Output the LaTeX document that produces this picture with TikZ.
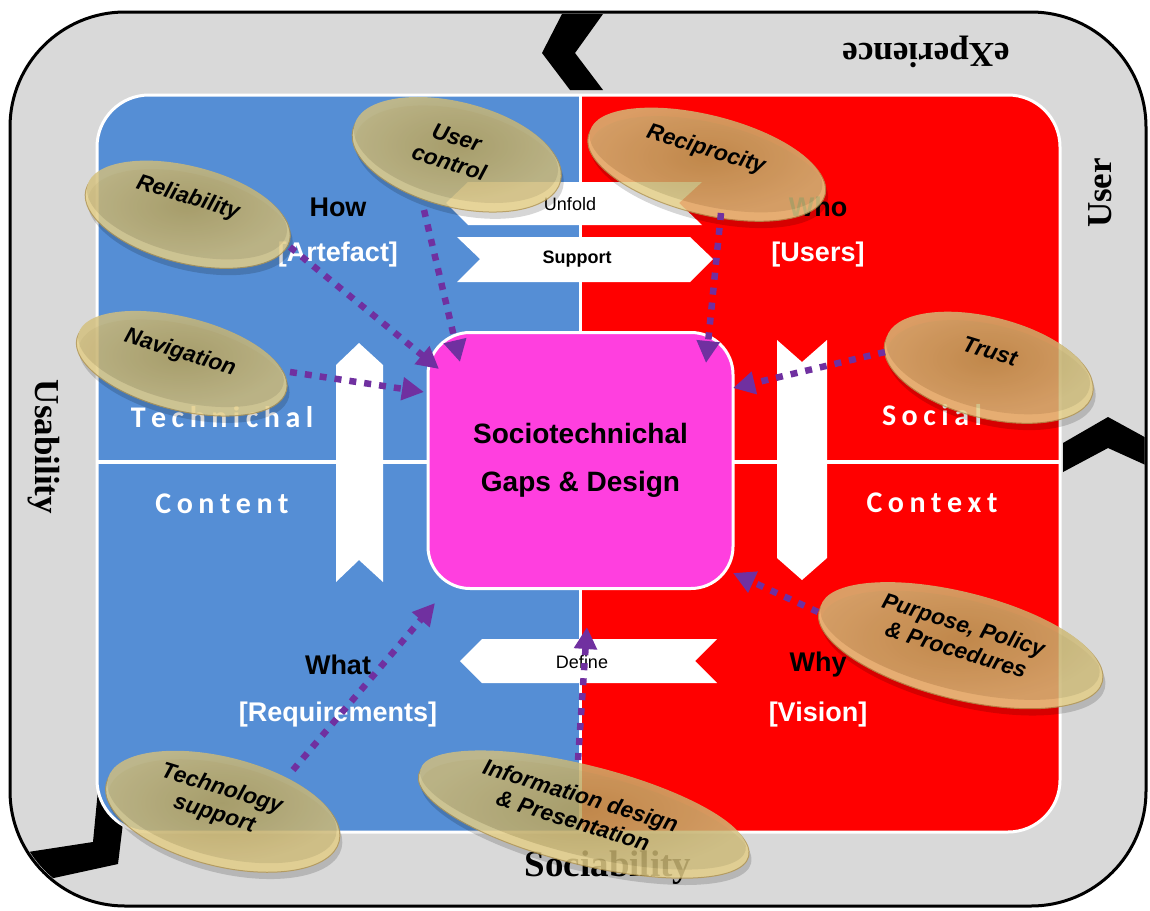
\documentclass[tikz,border=0pt]{standalone}
\usepackage{fontspec}
\setmainfont{Liberation Serif}
\newfontfamily\arialf{Liberation Sans}
\newfontfamily\calf{Carlito}
\usetikzlibrary{shapes.geometric,arrows.meta}
\definecolor{framegray}{HTML}{D9D9D9}
\definecolor{qblue}{HTML}{558ED5}
\definecolor{qred}{HTML}{FF0000}
\definecolor{corepink}{HTML}{FF3FDF}
\definecolor{dotc}{HTML}{7030A0}
\definecolor{pillIn}{HTML}{BCA65C}
\definecolor{pillOut}{HTML}{D4C07C}
\definecolor{pillRim}{HTML}{EAD48C}
\definecolor{pillEdge}{HTML}{B39650}
\makeatletter
\def\lspaced#1{\lsp@first#1\relax}
\def\lsp@first#1{#1\lsp@}
\def\lsp@#1{\ifx#1\relax\else\kern5.5pt#1\expandafter\lsp@\fi}
\makeatother
\tikzset{
  qhead/.style={font=\arialf\bfseries\fontsize{27}{30}\selectfont, text=black, inner sep=0pt},
  qsub/.style={font=\arialf\bfseries\fontsize{27}{30}\selectfont, text=white, inner sep=0pt},
  qspaced/.style={font=\calf\bfseries\fontsize{30}{32}\selectfont, text=white, inner sep=0pt},
  ribtext/.style={font=\arialf\fontsize{18}{20}\selectfont, inner sep=0pt},
  pillshadow/.style={ellipse, inner sep=0pt, fill=black, opacity=.16},
  pillrim/.style={ellipse, inner sep=0pt, fill=pillRim, draw=pillEdge, line width=1pt},
  pillface/.style={ellipse, inner sep=0pt, inner color=pillIn, outer color=pillOut},
  pilltext/.style={font=\arialf\bfseries\itshape\fontsize{22.5}{26}\selectfont, align=center, rotate=-17, inner sep=0pt},
  dotarrow/.style={draw=dotc, line width=6.5pt, dash pattern=on 7pt off 8pt, -{Triangle[length=22pt,width=22pt]}},
  bordertext/.style={font=\bfseries\fontsize{35}{40}\selectfont, inner sep=0pt},
}
\newcommand\pill[5]{%
  \node[pillshadow, minimum width=#4, minimum height=#5, rotate=-14, xshift=6pt, yshift=-11pt] at (#2,#3) {};
  \begin{scope}[transparency group, opacity=.82]
    \node[pillrim, minimum width=#4, minimum height=#5, rotate=-14, xshift=2pt, yshift=-5pt] at (#2,#3) {};
    \node[pillface, minimum width=#4-5, minimum height=#5-8, rotate=-14] (#1) at (#2,#3) {};
  \end{scope}}
\begin{document}
\begin{tikzpicture}[x=1pt,y=-1pt]
\useasboundingbox (0,0) rectangle (1150,910);
% outer frame
\draw[fill=framegray, line width=3pt, rounded corners=115pt] (10,12) rectangle (1146,906);
\node[bordertext, rotate=180] (exp) at (926,52) {eXperience};
\node[bordertext, rotate=90] (usr) at (1100,193) {User};
\node[bordertext, rotate=-90] (usab) at (44,447) {Usability};
\node[bordertext, font=\bfseries\fontsize{37}{40}\selectfont] (soc) at (608,868) {Sociability};
% black chevrons
\begin{scope}
  \clip[rounded corners=115pt] (11.5,13.5) rectangle (1144.5,904.5);
  \fill[black] (562,14) -- (603,14) -- (575,53) -- (603,90) -- (570,90) -- (542,53) -- cycle;
  \fill[black] (1063,443) -- (1108,417) -- (1150,440) -- (1150,467) -- (1108,448) -- (1063,472) -- cycle;
  \fill[black] (98,790) -- (127,790) -- (118,864) -- (40,881) -- (28,852) -- (93,842) -- cycle;
\end{scope}
% inner quadrants
\begin{scope}
  \clip[rounded corners=52pt] (97,95) rectangle (1060,832);
  \fill[qblue] (97,95) rectangle (580,832);
  \fill[qred] (580,95) rectangle (1060,832);
\end{scope}
\draw[white, line width=3pt, rounded corners=52pt] (97,95) rectangle (1060,832);
\draw[white, line width=3.5pt] (97,462) -- (1060,462);
\draw[white, line width=3pt] (580,95) -- (580,832);
% quadrant labels
\node[qhead] (how) at (338,207) {How};
\node[qsub] (art) at (338,255) {[Artefact]};
\node[qhead] (who) at (818,207) {Who};
\node[qsub] (users) at (818,255) {[Users]};
\node[qhead] (what) at (338,665) {What};
\node[qsub] (req) at (338,715) {[Requirements]};
\node[qhead] (why) at (818,665) {Why};
\node[qsub] (vis) at (818,715) {[Vision]};
\node[qspaced] (tech) at (222,417) {\lspaced{Technichal}};
\node[qspaced] (cont) at (222,504) {\lspaced{Content}};
\node[qspaced] (social) at (932,415) {\lspaced{Social}};
\node[qspaced] (ctx) at (932,503) {\lspaced{Context}};
% ribbons
\fill[white] (468,182) -- (702,182) -- (679,203) -- (702,225) -- (468,225) -- (446,203) -- cycle;
\node[ribtext] (unfold) at (570,204) {Unfold};
\fill[white] (457,237) -- (690,237) -- (713,259) -- (690,282) -- (457,282) -- (480,259) -- cycle;
\node[ribtext, font=\arialf\bfseries\fontsize{18}{20}\selectfont] (support) at (577,259) {Support};
\fill[white] (482,639) -- (717,639) -- (695,661) -- (717,683) -- (482,683) -- (460,661) -- cycle;
\node[ribtext] (define) at (582,662) {Define};
\fill[white] (336,365) -- (359,343) -- (383,365) -- (383,582) -- (359,560) -- (336,582) -- cycle;
\fill[white] (777,340) -- (802,362) -- (827,340) -- (827,558) -- (802,580) -- (777,558) -- cycle;
% center
\node[draw=white, line width=3pt, fill=corepink, rounded corners=42pt, minimum width=305pt, minimum height=256pt,
  font=\arialf\bfseries\fontsize{28}{48}\selectfont, align=center] (core) at (580.5,460.5) {Sociotechnichal\\Gaps \& Design};
% pills
\pill{rel}{187}{210}{210}{96}
\pill{uctl}{456}{150}{214}{104}
\pill{recip}{706}{160}{244}{98}
\pill{nav}{181}{359}{216}{92}
\pill{trust}{988}{363}{214}{100}
\pill{purp}{960}{641}{292}{106}
\pill{techs}{222}{807}{240}{108}
\pill{info}{583}{810}{340}{98}
\node[pilltext] (relT) at (188,198) {Reliability};
\node[pilltext] (uctlT) at (453,150) {User\\control};
\node[pilltext] (recipT) at (706,150) {Reciprocity};
\node[pilltext] (navT) at (180,353) {Navigation};
\node[pilltext] (trustT) at (990,351) {Trust};
\node[pilltext] (purpT) at (960,637) {Purpose, Policy\\\& Procedures};
\node[pilltext] (techsT) at (218,802) {Technology\\support};
\node[pilltext] (infoT) at (577,808) {Information design\\\& Presentation};
% arrows
\coordinate (relS) at (290,247);   \coordinate (relE) at (439,369);
\coordinate (uctlS) at (424,210);  \coordinate (uctlE) at (460,362);
\coordinate (recS) at (721,213);   \coordinate (recE) at (706,363);
\coordinate (navS) at (290,372);   \coordinate (navE) at (424,392);
\coordinate (truS) at (885,352);   \coordinate (truE) at (733,388);
\coordinate (purS) at (818,612);   \coordinate (purE) at (733,573);
\coordinate (tecS) at (293,770);   \coordinate (tecE) at (435,603);
\coordinate (infS) at (578,760);   \coordinate (infE) at (587,627);
\draw[dotarrow] (relS) -- (relE);
\draw[dotarrow] (uctlS) -- (uctlE);
\draw[dotarrow] (recS) -- (recE);
\draw[dotarrow] (navS) -- (navE);
\draw[dotarrow] (truS) -- (truE);
\draw[dotarrow] (purS) -- (purE);
\draw[dotarrow] (tecS) -- (tecE);
\draw[dotarrow] (infS) -- (infE);
\end{tikzpicture}
\end{document}
